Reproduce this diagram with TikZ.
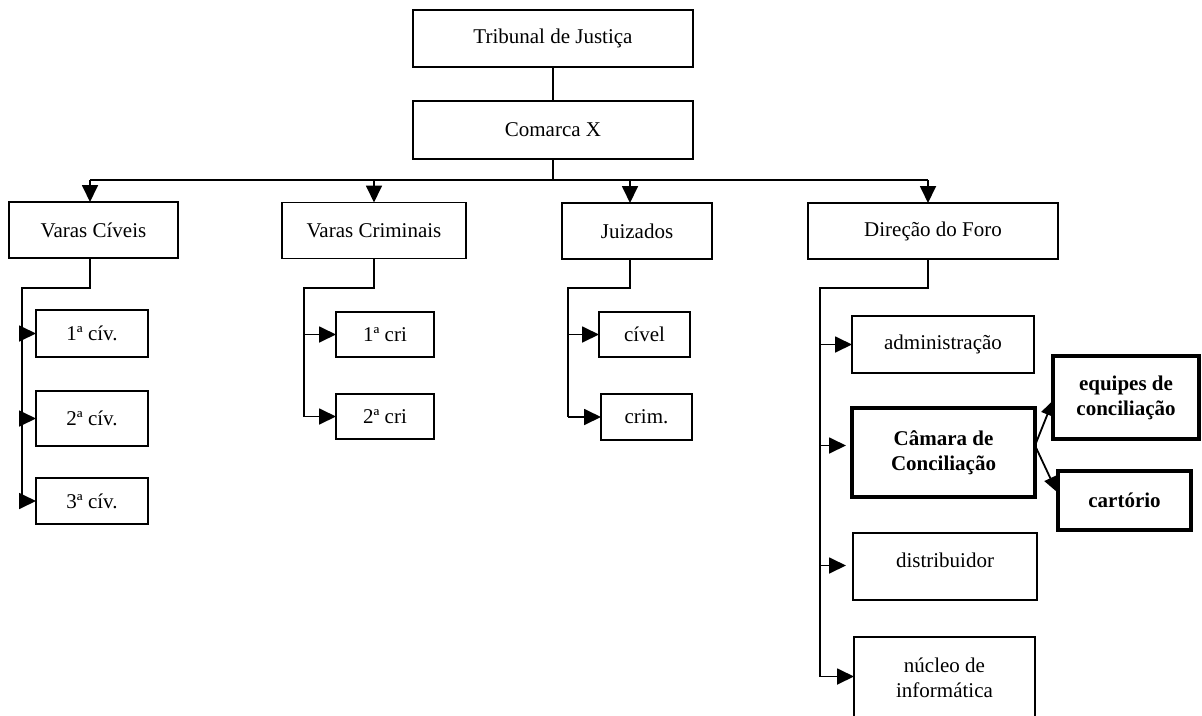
\documentclass[tikz,border=0pt]{standalone}
\usepackage{fontspec}
\setmainfont{Liberation Serif}
\usetikzlibrary{arrows.meta}
\newcommand\myfs{\fontsize{21}{25}\selectfont}
\begin{document}
\begin{tikzpicture}[x=1pt,y=-1pt,
  box/.style={draw, line width=1.8pt, inner sep=0pt, outer sep=0pt, align=center, font=\myfs},
  thickbox/.style={box, line width=4pt, font=\myfs\bfseries},
  ln/.style={line width=1.8pt},
  arr/.style={line width=1.8pt, -{Triangle[length=17pt,width=16pt]}},
  sarr/.style={line width=1.8pt, -{Triangle[length=15pt,width=13pt]}}]
\useasboundingbox (0,0) rectangle (1202,715);
\clip (0,0) rectangle (1202,715);
% top
\node[box, minimum width=280pt, minimum height=57pt] (tj) at (553,38.5) {Tribunal de Justiça};
\node[box, minimum width=280pt, minimum height=58pt] (cx) at (553,130) {Comarca X};
% level 2
\node[box, minimum width=169pt, minimum height=56pt] (vc) at (93.5,230) {Varas Cíveis};
\node[box, minimum width=184pt, minimum height=56pt] (vcr) at (374,230.5) {Varas Criminais};
\node[box, minimum width=150pt, minimum height=56pt] (jz) at (637,231) {Juizados};
\node[box, minimum width=250pt, minimum height=56pt] (df) at (933,231) {Direção do Foro};
% varas civeis
\node[box, minimum width=112pt, minimum height=47pt] (c1) at (92,333.5) {1ª cív.};
\node[box, minimum width=112pt, minimum height=55pt] (c2) at (92,418.5) {2ª cív.};
\node[box, minimum width=112pt, minimum height=46pt] (c3) at (92,501) {3ª cív.};
% varas criminais
\node[box, minimum width=98pt, minimum height=45pt] (r1) at (385,334.5) {1ª cri};
\node[box, minimum width=98pt, minimum height=45pt] (r2) at (385,416.5) {2ª cri};
% juizados
\node[box, minimum width=91pt, minimum height=45pt] (j1) at (644.5,334.5) {cível};
\node[box, minimum width=91pt, minimum height=46pt] (j2) at (646.5,417) {crim.};
% direcao do foro
\node[box, minimum width=182pt, minimum height=57pt] (adm) at (943,344.5) {administração};
\node[thickbox, minimum width=183pt, minimum height=89pt] (cam) at (943.5,452.5) {Câmara de\\Conciliação};
\node[thickbox, minimum width=146pt, minimum height=83pt] (eq) at (1126,397.5) {equipes de\\conciliação};
\node[thickbox, minimum width=133pt, minimum height=59pt] (cart) at (1124.5,500.5) {cartório};
\node[box, minimum width=184pt, minimum height=67pt] (dist) at (945,566.5) {};
\node[font=\myfs] (distt) at (945,560) {distribuidor};
\node[box, minimum width=181pt, minimum height=81pt] (nuc) at (944.5,677.5) {núcleo de\\informática};
% connectors top
\coordinate (bl) at (90,180);
\coordinate (b2) at (374,180);
\coordinate (b3) at (630,180);
\coordinate (br) at (928,180);
\draw[ln] (tj) -- (cx);
\draw[ln] (cx.south) -- (cx.south |- bl);
\draw[ln] (bl) -- (br);
\draw[arr] (bl) -- (bl |- vc.north);
\draw[arr] (b2) -- (b2 |- vcr.north);
\draw[arr] (b3) -- (b3 |- jz.north);
\draw[arr] (br) -- (br |- df.north);
% trunks
\coordinate (t1) at (22,288);
\coordinate (t2) at (304,288);
\coordinate (t3) at (568,288);
\coordinate (t4) at (820,288);
\draw[ln] (vc.south -| bl) |- (t1) -- (t1 |- c3.west);
\draw[ln] (vcr.south -| b2) |- (t2) -- (t2 |- r2.west);
\draw[ln] (jz.south -| b3) |- (t3) -- (t3 |- j2.west);
\draw[ln] (df.south -| br) |- (t4) -- ([yshift=1pt]t4 |- nuc.west);
\foreach \n in {c1,c2,c3} \draw[arr] (t1 |- \n.west) -- (\n.west);
\foreach \n in {r1,r2} \draw[arr] (t2 |- \n.west) -- (\n.west);
\foreach \n in {j1,j2} \draw[arr] (t3 |- \n.west) -- (\n.west);
\draw[arr] (t4 |- adm.west) -- (adm.west);
\draw[arr, shorten >=6pt] ([yshift=7pt]t4 |- cam.west) -- ([yshift=7pt]cam.west);
\draw[arr, shorten >=7pt] ([yshift=1pt]t4 |- dist.west) -- ([yshift=1pt]dist.west);
\draw[arr] ([yshift=1pt]t4 |- nuc.west) -- ([yshift=1pt]nuc.west);
% camara children
\draw[sarr] ([yshift=7pt]cam.east) -- ([yshift=-3pt]eq.west);
\draw[sarr, shorten >=3pt] ([yshift=7pt]cam.east) -- ([yshift=6pt]cart.west);
\end{tikzpicture}
\end{document}
